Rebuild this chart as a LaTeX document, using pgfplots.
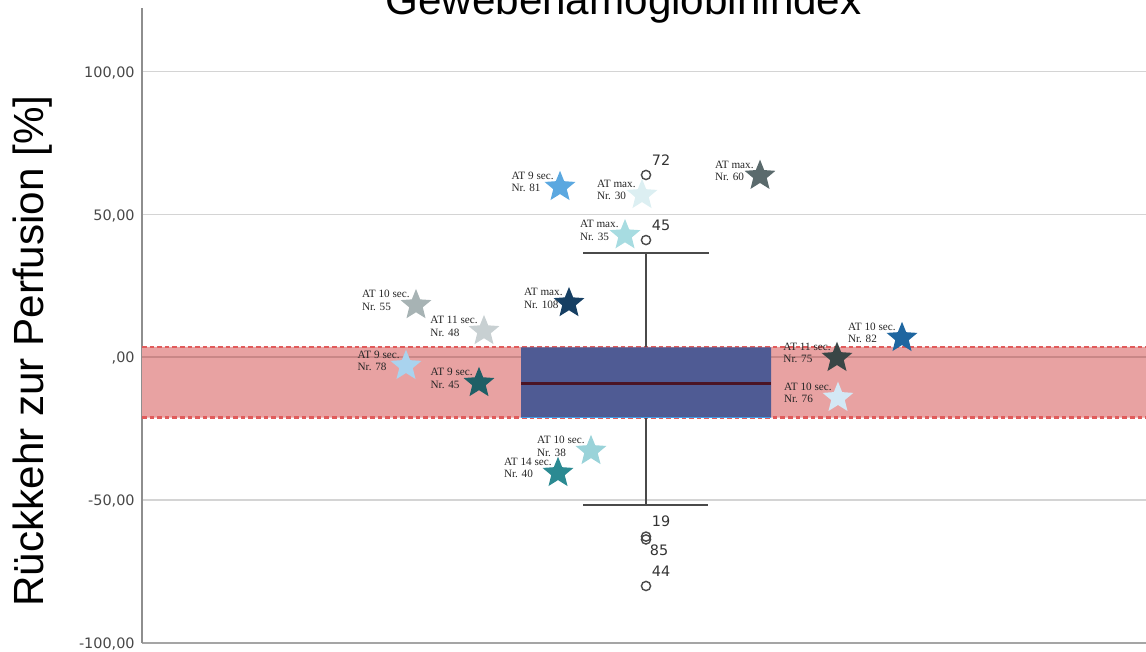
\documentclass[border=0pt]{standalone}
\usepackage{pgfplots}
\pgfplotsset{compat=1.18}
\usepackage{fontspec}
\setmainfont{Liberation Sans}
\newfontfamily\tickfont{DejaVu Sans}
\newfontfamily\notefont{Liberation Serif}

\definecolor{gridgray}{HTML}{D4D4D4}
\definecolor{axisgray}{HTML}{8E8E8E}
\definecolor{bandfill}{HTML}{E8A2A2}
\definecolor{bandline}{HTML}{E15B5B}
\definecolor{zeroline}{HTML}{C98787}
\definecolor{boxfill}{HTML}{4F5B94}
\definecolor{boxedge}{HTML}{3FA0EA}
\definecolor{mediancol}{HTML}{4B1424}
\definecolor{whiskcol}{HTML}{4A4A4A}
\definecolor{outcol}{HTML}{4A4A4A}
% star colours
\definecolor{s81}{HTML}{5BA8E0}
\definecolor{s30}{HTML}{DCEFF2}
\definecolor{s35}{HTML}{A7DCE1}
\definecolor{s60}{HTML}{5A6A6C}
\definecolor{s55}{HTML}{A7B3B4}
\definecolor{s48}{HTML}{C8D0D2}
\definecolor{s108}{HTML}{163F63}
\definecolor{s78}{HTML}{A9D3EE}
\definecolor{s45}{HTML}{1F5F66}
\definecolor{s38}{HTML}{9AD3D9}
\definecolor{s40}{HTML}{2B8A92}
\definecolor{s75}{HTML}{3A4646}
\definecolor{s82}{HTML}{1E66A0}
\definecolor{s76}{HTML}{D3E8F5}

% filled five-pointed star
\pgfdeclareplotmark{fstar}{%
  \pgfpathmoveto{\pgfpointpolar{90}{\pgfplotmarksize}}%
  \pgfpathlineto{\pgfpointpolar{126}{0.44*\pgfplotmarksize}}%
  \pgfpathlineto{\pgfpointpolar{162}{\pgfplotmarksize}}%
  \pgfpathlineto{\pgfpointpolar{198}{0.44*\pgfplotmarksize}}%
  \pgfpathlineto{\pgfpointpolar{234}{\pgfplotmarksize}}%
  \pgfpathlineto{\pgfpointpolar{270}{0.44*\pgfplotmarksize}}%
  \pgfpathlineto{\pgfpointpolar{306}{\pgfplotmarksize}}%
  \pgfpathlineto{\pgfpointpolar{342}{0.44*\pgfplotmarksize}}%
  \pgfpathlineto{\pgfpointpolar{18}{\pgfplotmarksize}}%
  \pgfpathlineto{\pgfpointpolar{54}{0.44*\pgfplotmarksize}}%
  \pgfpathclose
  \pgfusepathqfill}

\pgfplotsset{
  atstar/.style={only marks, mark=fstar, mark size=8.1pt, color=#1,
    nodes near coords style={anchor=east, align=left, inner sep=0pt,
      xshift=-3pt, yshift=2.5pt, text=black!85,
      font=\notefont\fontsize{5.6}{6.4}\selectfont}},
  outlab/.style={only marks, mark=o, mark size=2.3pt, color=outcol,
    mark options={line width=0.7pt},
    point meta=explicit symbolic, nodes near coords,
    nodes near coords style={anchor=center, inner sep=0pt, text=black!80,
      font=\tickfont\fontsize{7.2}{8}\selectfont}},
}

\begin{document}
\begin{tikzpicture}
\clip (0,0) rectangle (573pt,-326pt);

\begin{axis}[
  at={(71pt,-321.25pt)}, anchor=south west,
  scale only axis, width=502pt, height=317.25pt,
  xmin=142, xmax=1146, ymin=-100, ymax=122.3,
  clip=false,
  axis x line*=bottom, axis y line*=left,
  x axis line style={color=axisgray!80, line width=1pt},
  y axis line style={color=axisgray, line width=0.75pt},
  xtick=\empty,
  ytick={-100,-50,0,50,100},
  yticklabels={{-100,00},{-50,00},{,00},{50,00},{100,00}},
  yticklabel style={font=\tickfont\fontsize{7.2}{8}\selectfont, text=black!72,
    inner sep=0pt, xshift=-3.5pt, yshift=-0.6pt, overlay},
  major tick length=0pt,
  ymajorgrids,
  major grid style={color=gridgray, line width=0.8pt},
]

% reference band
\addplot[draw=none, fill=bandfill] coordinates
  {(142,-21.2) (1146,-21.2) (1146,3.6) (142,3.6) (142,-21.2)};
\addplot[color=zeroline, line width=0.75pt] coordinates {(142,0) (1146,0)};
\addplot[color=bandline, line width=1.1pt, dash pattern=on 2.3pt off 1.5pt]
  coordinates {(142,3.6) (1146,3.6)};
\addplot[color=bandline, line width=1.1pt, dash pattern=on 2.3pt off 1.5pt]
  coordinates {(142,-21.2) (1146,-21.2)};

% whiskers
\addplot[color=whiskcol, line width=1pt] coordinates {(646,3.4) (646,36.6)};
\addplot[color=whiskcol, line width=1pt] coordinates {(646,-21.1) (646,-51.8)};
\addplot[color=whiskcol, line width=1pt] coordinates {(583,36.6) (709,36.6)};
\addplot[color=whiskcol, line width=1pt] coordinates {(583,-51.8) (708,-51.8)};

% box
\addplot[draw=none, fill=boxfill] coordinates
  {(521,-21.1) (771,-21.1) (771,3.4) (521,3.4) (521,-21.1)};
\addplot[color=boxedge, line width=0.6pt] coordinates {(521,-21.1) (771,-21.1)};
\addplot[color=mediancol, line width=1.5pt] coordinates {(521,-9.2) (771,-9.2)};

% outliers
\addplot[outlab, nodes near coords style={xshift=7.5pt, yshift=7.5pt}]
  coordinates {(646,63.8) [72] (646,41.0) [45] (646,-62.9) [19] (646,-80.2) [44]};
\addplot[outlab, nodes near coords style={xshift=6.5pt, yshift=-5.5pt}]
  coordinates {(646,-63.9) [85]};

% individual cases
\addplot[atstar=s81, nodes near coords={AT 9 sec.\\Nr. 81}] coordinates {(560,59.6)};
\addplot[atstar=s30, nodes near coords={AT max.\\Nr. 30}] coordinates {(642,56.8)};
\addplot[atstar=s35, nodes near coords={AT max.\\Nr. 35}] coordinates {(625,42.7)};
\addplot[atstar=s60, nodes near coords={AT max.\\Nr. 60}] coordinates {(760,63.5)};
\addplot[atstar=s55, nodes near coords={AT 10 sec.\\Nr. 55}] coordinates {(416,18.2)};
\addplot[atstar=s48, nodes near coords={AT 11 sec.\\Nr. 48}] coordinates {(484,9.1)};
\addplot[atstar=s108, nodes near coords={AT max.\\Nr. 108}] coordinates {(569,18.9)};
\addplot[atstar=s78, nodes near coords={AT 9 sec.\\Nr. 78}] coordinates {(406,-3.1)};
\addplot[atstar=s45, nodes near coords={AT 9 sec.\\Nr. 45}] coordinates {(479,-9.1)};
\addplot[atstar=s38, nodes near coords={AT 10 sec.\\Nr. 38}] coordinates {(591,-32.9)};
\addplot[atstar=s40, nodes near coords={AT 14 sec.\\Nr. 40}] coordinates {(558,-40.6)};
\addplot[atstar=s75, nodes near coords={AT 11 sec.\\Nr. 75}] coordinates {(837,-0.3)};
\addplot[atstar=s82, nodes near coords={AT 10 sec.\\Nr. 82}] coordinates {(902,6.7)};
\addplot[atstar=s76, nodes near coords={AT 10 sec.\\Nr. 76}] coordinates {(838,-14.3)};
\end{axis}

% title (cut by the top edge) and axis label
\node[anchor=base, inner sep=0pt, overlay, font=\fontsize{21.1}{25}\selectfont]
  at (311.75pt,-7.5pt) {Gewebehämoglobinindex};
\node[anchor=base, rotate=90, inner sep=0pt, overlay, font=\fontsize{21.1}{25}\selectfont]
  at (21.5pt,-175.5pt) {Rückkehr zur Perfusion [\%]};
\end{tikzpicture}
\end{document}
